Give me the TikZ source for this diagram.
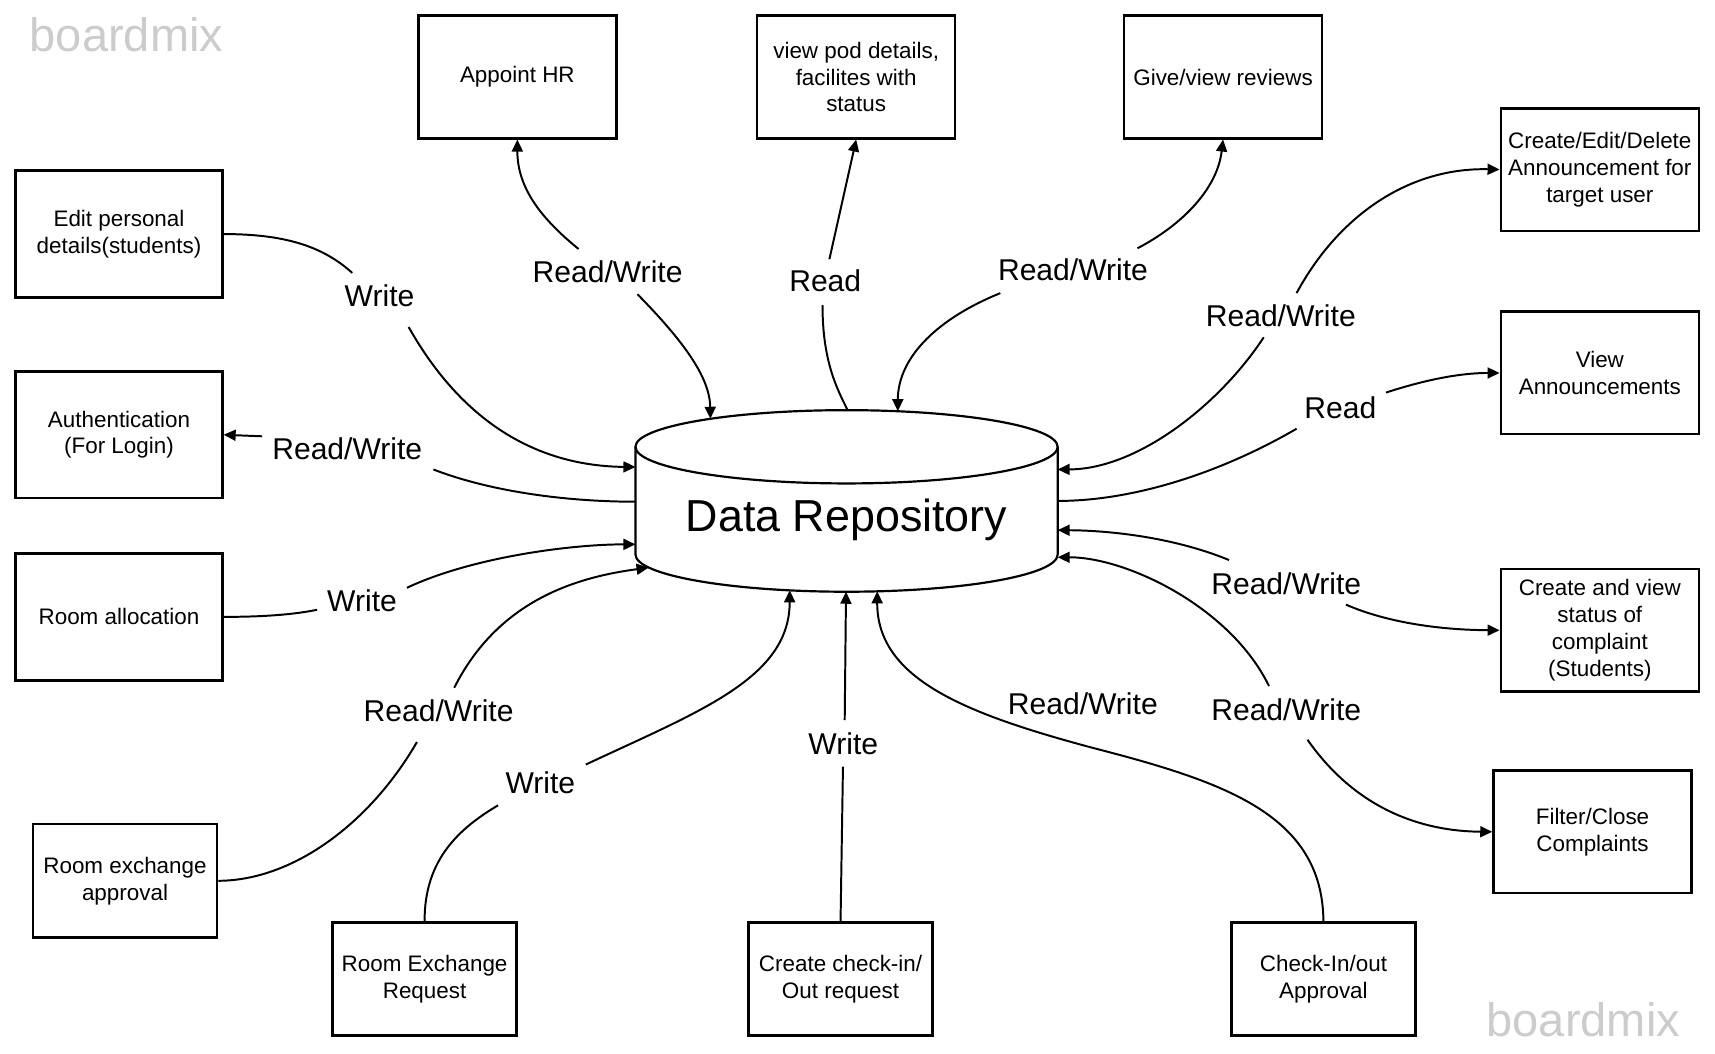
\documentclass[tikz,border=0pt]{standalone}
\usepackage{fontspec}
\setmainfont{Liberation Sans}
\usetikzlibrary{arrows.meta}
\begin{document}
\begin{tikzpicture}[x=1pt,y=-1pt,
  box/.style={draw, line width=2.3pt, align=center, font=\fontsize{20.5}{24.5}\selectfont, inner sep=0pt},
  bigA/.style={box, minimum width=181pt, minimum height=112pt},
  bigB/.style={box, minimum width=189pt, minimum height=116pt},
  smallbox/.style={box, minimum width=168.5pt, minimum height=103.5pt},
  lbl/.style={font=\fontsize{27.5}{33}\selectfont, inner sep=0pt},
  conn/.style={line width=1.8pt},
  arr/.style={conn, -{Triangle[length=11pt,width=10pt]}},
  wm/.style={text=black!20, font=\fontsize{43}{50}\selectfont, inner sep=0pt}]
\useasboundingbox (0,0) rectangle (1568,963);

% watermarks
\node[wm, anchor=base west] (wm1) at (27,47) {boardmix};
\node[wm, anchor=base west] (wm2) at (1359,948) {boardmix};

% boxes
\node[bigA] (hr) at (473,70.4) {Appoint HR};
\node[bigA] (pod) at (782.8,70.4) {view pod details,\\facilites with\\status};
\node[bigA] (rev) at (1118.2,70.4) {Give/view reviews};
\node[bigA] (ann) at (1462.7,155) {Create/Edit/Delete\\Announcement for\\target user};
\node[bigA] (view) at (1462.7,341) {View\\Announcements};
\node[bigA] (comp) at (1462.7,576.2) {Create and view\\status of\\complaint\\(Students)};
\node[bigA] (filt) at (1456,760.5) {Filter/Close\\Complaints};
\node[smallbox] (chk) at (1210,895) {Check-In/out\\Approval};
\node[smallbox] (req) at (768.5,895) {Create check-in/\\Out request};
\node[smallbox] (rex) at (388.2,895) {Room Exchange\\Request};
\node[smallbox] (rexa) at (114.3,805.3) {Room exchange\\approval};
\node[bigB] (alloc) at (108.8,564) {Room allocation};
\node[bigB] (auth) at (108.8,397.5) {Authentication\\(For Login)};
\node[bigB] (edit) at (108.8,214) {Edit personal\\details(students)};

% cylinder
\draw[line width=2pt] (774,408.5) ellipse [x radius=193pt, y radius=33.5pt];
\draw[line width=2pt] (581,408.5) -- (581,507)
  .. controls (581,525.8) and (667.4,541) .. (774,541)
  .. controls (880.6,541) and (967,525.8) .. (967,507) -- (967,408.5);
\node[font=\fontsize{41}{48}\selectfont, anchor=base, inner sep=0pt] (repo) at (774,486) {Data Repository};

% attach points on cylinder
\coordinate (cA) at (581,427);
\coordinate (cN) at (581,458.7);
\coordinate (cM) at (581,497.7);
\coordinate (cL) at (593,519);
\coordinate (cK) at (722,539.7);
\coordinate (cJ) at (773.5,541);
\coordinate (cI) at (802,540.6);
\coordinate (cB) at (649.5,382.9);
\coordinate (cC) at (775,375);
\coordinate (cD) at (820.8,376);
\coordinate (cE) at (967,429.2);
\coordinate (cF) at (967,458);
\coordinate (cG) at (967,484.7);
\coordinate (cH) at (967,509.5);

% labels
\node[lbl] (lA) at (347,270) {Write};
\node[lbl] (lB) at (555.5,248.7) {Read/Write};
\node[lbl] (lC) at (754.5,257) {Read};
\node[lbl] (lD) at (981,247) {Read/Write};
\node[lbl] (lE) at (1171,289) {Read/Write};
\node[lbl] (lF) at (1225.5,373) {Read};
\node[lbl] (lG) at (1176,534) {Read/Write};
\node[lbl] (lH) at (1176,649) {Read/Write};
\node[lbl] (lI) at (990,643.5) {Read/Write};
\node[lbl] (lJ) at (771,680) {Write};
\node[lbl] (lK) at (494,716) {Write};
\node[lbl] (lL) at (401,650) {Read/Write};
\node[lbl] (lM) at (331,549) {Write};
\node[lbl] (lN) at (317.5,410) {Read/Write};

% free ends near labels
\coordinate (a1) at (322,249.5);
\coordinate (a2) at (373.6,299);
\coordinate (b1) at (529,227.7);
\coordinate (b2) at (582.8,269);
\coordinate (c1) at (758.3,237);
\coordinate (c2) at (752,279);
\coordinate (d1) at (1040,227);
\coordinate (d2) at (914.6,268);
\coordinate (e1) at (1185.4,268);
\coordinate (e2) at (1155.4,308.4);
\coordinate (f1) at (1267.2,358.9);
\coordinate (f2) at (1185.4,392);
\coordinate (g1) at (1123.6,512);
\coordinate (g2) at (1230.6,552.8);
\coordinate (h1) at (1160.2,627.2);
\coordinate (h2) at (1195.4,676.3);
\coordinate (iM) at (1000,684);
\coordinate (j1) at (770.7,701);
\coordinate (j2) at (772.3,658.3);
\coordinate (k1) at (455.4,736.3);
\coordinate (k2) at (535.6,699);
\coordinate (l1) at (381.2,678.4);
\coordinate (l2) at (415.3,628.8);
\coordinate (m1) at (289.9,557.5);
\coordinate (m2) at (372.1,537.4);
\coordinate (n1) at (239.7,398.9);
\coordinate (n2) at (396.2,429.2);

% connectors
\draw[conn] (edit.east) .. controls (260,214) and (295,225) .. (a1);
\draw[arr] (a2) .. controls (425,390) and (495,426) .. (cA);

\draw[arr] (b1) .. controls (495,200) and (473,172) .. (hr.south);
\draw[arr] (b2) .. controls (625,312) and (649,345) .. (cB);

\draw[arr] (c1) -- (pod.south);
\draw[conn] (c2) .. controls (752,330) and (765,355) .. (cC);

\draw[arr] (d1) .. controls (1082,205) and (1113,172) .. (rev.south);
\draw[arr] (d2) .. controls (860,290) and (821,325) .. (cD);

\draw[arr] (e1) .. controls (1225,195) and (1290,153) .. (ann.west);
\draw[arr] (e2) .. controls (1115,370) and (1040,429) .. (cE);

\draw[arr] (f1) .. controls (1310,345) and (1340,341) .. (view.west);
\draw[conn] (f2) .. controls (1120,430) and (1040,458) .. (cF);

\draw[arr] (g1) .. controls (1070,490) and (1010,485) .. (cG);
\draw[arr] (g2) .. controls (1270,570) and (1320,576) .. (comp.west);

\draw[arr] (h1) .. controls (1125,555) and (1030,509.5) .. (cH);
\draw[arr] (h2) .. controls (1240,740) and (1300,760) .. (filt.west);

\draw[arr] (chk.north) .. controls (1209,745) and (1120,715) .. (iM)
  .. controls (880,652) and (802,620) .. (cI);

\draw[conn] (req.north) -- (j1);
\draw[arr] (j2) -- (cJ);

\draw[conn] (rex.north) .. controls (388,790) and (415,760) .. (k1);
\draw[arr] (k2) .. controls (640,650) and (722,620) .. (cK);

\draw[conn] (rexa.east) .. controls (270,805) and (340,750) .. (l1);
\draw[arr] (l2) .. controls (455,550) and (525,528) .. (cL);

\draw[conn] (alloc.east) .. controls (240,564) and (268,562) .. (m1);
\draw[arr] (m2) .. controls (430,510) and (520,497.7) .. (cM);

\draw[arr] (n1) -- (auth.east);
\draw[conn] (n2) .. controls (450,450) and (520,458.7) .. (cN);
\end{tikzpicture}
\end{document}
